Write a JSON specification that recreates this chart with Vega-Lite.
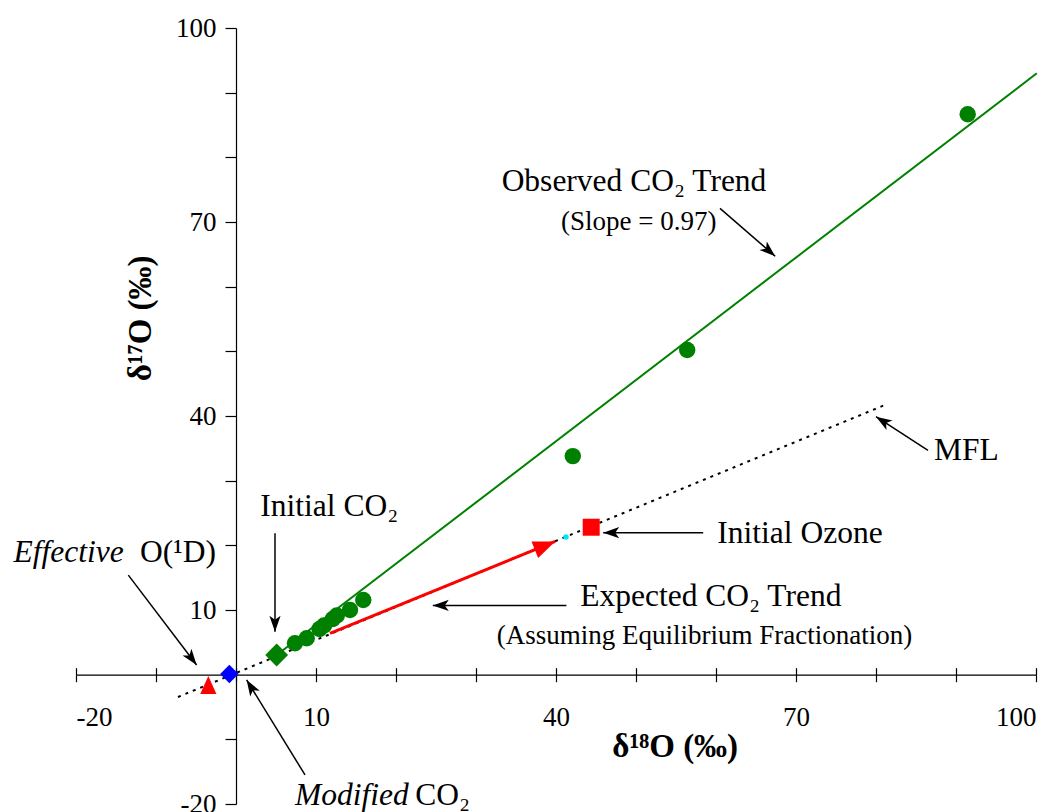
{
  "$schema": "https://vega.github.io/schema/vega-lite/v6.json",
  "width": 960,
  "height": 776,
  "autosize": {"type": "none"},
  "padding": {"left": 76, "top": 28, "right": 22, "bottom": 8},
  "background": "white",
  "config": {
    "view": {"stroke": null},
    "font": "Liberation Serif",
    "axis": {
      "grid": false,
      "domainColor": "black",
      "tickColor": "black",
      "labelColor": "black",
      "labelFont": "Liberation Serif",
      "labelFontSize": 27,
      "domainWidth": 1.2,
      "tickWidth": 1.2,
      "title": null
    }
  },
  "resolve": {"axis": {"x": "independent", "y": "independent"}},
  "datasets": {
    "samples": [
      {"x": 7.37, "y": 4.85, "kind": "Observed CO2"},
      {"x": 8.84, "y": 5.63, "kind": "Observed CO2"},
      {"x": 10.44, "y": 7.06, "kind": "Observed CO2"},
      {"x": 11.0, "y": 7.6, "kind": "Observed CO2"},
      {"x": 12.1, "y": 8.6, "kind": "Observed CO2"},
      {"x": 12.6, "y": 9.15, "kind": "Observed CO2"},
      {"x": 14.25, "y": 10.0, "kind": "Observed CO2"},
      {"x": 15.91, "y": 11.55, "kind": "Observed CO2"},
      {"x": 42.1, "y": 33.8, "kind": "Observed CO2"},
      {"x": 56.4, "y": 50.2, "kind": "Observed CO2"},
      {"x": 91.46, "y": 86.66, "kind": "Observed CO2"},
      {"x": 5.08, "y": 3.04, "kind": "Initial CO2"},
      {"x": -0.83, "y": 0.1, "kind": "Modified CO2"},
      {"x": -3.46, "y": -1.6, "kind": "Effective O(1D)"},
      {"x": 44.4, "y": 22.8, "kind": "Initial Ozone"},
      {"x": 41.25, "y": 21.3, "kind": "Equilibrium end"}
    ],
    "mfl": [{"x": -7.25, "y": -3.45, "x2": 81.1, "y2": 41.7}],
    "observed": [{"x": 5.08, "y": 3.04, "x2": 100.1, "y2": 93.0}],
    "expected": [{"x": 11.75, "y": 6.39, "x2": 39.9, "y2": 20.6}],
    "arrows": [
      {"name": "obs", "x": 60.5, "y": 72.1, "x2": 67.4, "y2": 64.7},
      {"name": "mfl", "x": 86.5, "y": 34.7, "x2": 80.0, "y2": 39.9},
      {"name": "ozone", "x": 58.4, "y": 21.95, "x2": 45.9, "y2": 21.95},
      {"name": "expected", "x": 41.3, "y": 10.7, "x2": 24.6, "y2": 10.7},
      {"name": "initial", "x": 4.875, "y": 21.85, "x2": 4.875, "y2": 6.65},
      {"name": "effective", "x": -13.46, "y": 15.4, "x2": -4.92, "y2": 1.5},
      {"name": "modified", "x": 8.625, "y": -15.5, "x2": 1.33, "y2": -0.82}
    ],
    "bigText": [
      {"label": "Observed CO₂ Trend", "x": 49.75, "y": 74.8},
      {"label": "Initial Ozone", "x": 70.5, "y": 20.3},
      {"label": "Expected CO₂ Trend", "x": 59.35, "y": 10.6},
      {"label": "Initial CO₂", "x": 11.65, "y": 24.5},
      {"label": "MFL", "x": 91.3, "y": 33.2}
    ],
    "smallText": [
      {"label": "(Slope = 0.97)", "x": 50.35, "y": 68.7},
      {"label": "(Assuming Equilibrium Fractionation)", "x": 58.56, "y": 4.74}
    ],
    "leftText": [
      {"label": "O(¹D)", "x": -12.0, "y": 17.47},
      {"label": "CO₂", "x": 22.4, "y": -20.1}
    ],
    "italicText": [
      {"label": "Effective", "x": -27.8, "y": 17.47},
      {"label": "Modified", "x": 7.375, "y": -20.1}
    ],
    "xTitle": [{"label": "δ¹⁸O (‰)", "x": 54.9, "y": -12.7}],
    "yTitle": [{"label": "δ¹⁷O (‰)", "x": -10.6, "y": 55.1}]
  },
  "layer": [
    {
      "data": {"name": "mfl"},
      "mark": {"type": "rule", "color": "black", "strokeWidth": 2, "strokeDash": [3, 5]},
      "encoding": {
        "x": {"field": "x", "type": "quantitative", "scale": {"domain": [-20, 100], "nice": false, "zero": false},
          "axis": {"orient": "top", "offset": -646.7, "values": [-20, -10, 0, 10, 20, 30, 40, 50, 60, 70, 80, 90, 100], "tickSize": 7, "labels": false, "domain": false}},
        "y": {"field": "y", "type": "quantitative", "scale": {"domain": [-20, 100], "nice": false, "zero": false},
          "axis": {"orient": "left", "offset": -160, "values": [-20, -10, 0, 10, 20, 30, 40, 50, 60, 70, 80, 90, 100], "tickSize": 11, "labelPadding": 9,
            "labelExpr": "indexof([-20,10,40,70,100], datum.value) >= 0 ? '' + datum.value : ''"}},
        "x2": {"field": "x2"},
        "y2": {"field": "y2"}
      }
    },
    {
      "data": {"name": "observed"},
      "mark": {"type": "rule", "color": "#008000", "strokeWidth": 2},
      "encoding": {
        "x": {"field": "x", "type": "quantitative", "axis": null},
        "y": {"field": "y", "type": "quantitative", "axis": null},
        "x2": {"field": "x2"},
        "y2": {"field": "y2"}
      }
    },
    {
      "data": {"name": "expected"},
      "layer": [
        {
          "mark": {"type": "rule", "color": "#ff0000", "strokeWidth": 3},
          "encoding": {
            "x": {"field": "x", "type": "quantitative", "axis": null},
            "y": {"field": "y", "type": "quantitative", "axis": null},
            "x2": {"field": "x2"},
            "y2": {"field": "y2"}
          }
        },
        {
          "mark": {"type": "point", "shape": "M0,0L-2,-0.8L-2,0.8Z", "filled": true, "color": "#ff0000", "opacity": 1, "size": 484, "angle": 337.8},
          "encoding": {
            "x": {"field": "x2", "type": "quantitative", "axis": null},
            "y": {"field": "y2", "type": "quantitative", "axis": null}
          }
        }
      ]
    },
    {
      "data": {"name": "samples"},
      "mark": {"type": "point", "filled": true, "opacity": 1},
      "encoding": {
        "x": {"field": "x", "type": "quantitative",
          "axis": {"orient": "bottom", "offset": -129.3, "values": [-20, -10, 0, 10, 20, 30, 40, 50, 60, 70, 80, 90, 100], "tickSize": 7, "labelPadding": 23,
            "labelExpr": "indexof([-20,10,40,70,100], datum.value) >= 0 ? '' + datum.value : ''"}},
        "y": {"field": "y", "type": "quantitative", "axis": null},
        "shape": {"field": "kind", "type": "nominal", "legend": null,
          "scale": {"domain": ["Observed CO2", "Initial CO2", "Modified CO2", "Effective O(1D)", "Initial Ozone", "Equilibrium end"],
            "range": ["circle", "diamond", "diamond", "M0,-1L0.9,1L-0.9,1Z", "square", "circle"]}},
        "color": {"field": "kind", "type": "nominal", "legend": null,
          "scale": {"domain": ["Observed CO2", "Initial CO2", "Modified CO2", "Effective O(1D)", "Initial Ozone", "Equilibrium end"],
            "range": ["#008000", "#008000", "#0000ff", "#ff0000", "#ff0000", "#00e5ff"]}},
        "size": {"field": "kind", "type": "nominal", "legend": null,
          "scale": {"type": "ordinal", "domain": ["Observed CO2", "Initial CO2", "Modified CO2", "Effective O(1D)", "Initial Ozone", "Equilibrium end"],
            "range": [270, 520, 340, 324, 289, 30]}}
      }
    },
    {
      "data": {"name": "arrows"},
      "layer": [
        {
          "mark": {"type": "rule", "color": "black", "strokeWidth": 1.5},
          "encoding": {
            "x": {"field": "x", "type": "quantitative", "axis": null},
            "y": {"field": "y", "type": "quantitative", "axis": null},
            "x2": {"field": "x2"},
            "y2": {"field": "y2"}
          }
        },
        {"transform": [{"filter": "datum.name == 'obs'"}], "mark": {"type": "point", "shape": "M0,0L-2,-0.7L-1.5,0L-2,0.7Z", "filled": true, "color": "black", "opacity": 1, "size": 256, "angle": 41}, "encoding": {"x": {"field": "x2", "type": "quantitative", "axis": null}, "y": {"field": "y2", "type": "quantitative", "axis": null}}},
        {"transform": [{"filter": "datum.name == 'mfl'"}], "mark": {"type": "point", "shape": "M0,0L-2,-0.7L-1.5,0L-2,0.7Z", "filled": true, "color": "black", "opacity": 1, "size": 256, "angle": 212.5}, "encoding": {"x": {"field": "x2", "type": "quantitative", "axis": null}, "y": {"field": "y2", "type": "quantitative", "axis": null}}},
        {"transform": [{"filter": "datum.name == 'ozone' || datum.name == 'expected'"}], "mark": {"type": "point", "shape": "M0,0L-2,-0.7L-1.5,0L-2,0.7Z", "filled": true, "color": "black", "opacity": 1, "size": 256, "angle": 180}, "encoding": {"x": {"field": "x2", "type": "quantitative", "axis": null}, "y": {"field": "y2", "type": "quantitative", "axis": null}}},
        {"transform": [{"filter": "datum.name == 'initial'"}], "mark": {"type": "point", "shape": "M0,0L-2,-0.7L-1.5,0L-2,0.7Z", "filled": true, "color": "black", "opacity": 1, "size": 256, "angle": 90}, "encoding": {"x": {"field": "x2", "type": "quantitative", "axis": null}, "y": {"field": "y2", "type": "quantitative", "axis": null}}},
        {"transform": [{"filter": "datum.name == 'effective'"}], "mark": {"type": "point", "shape": "M0,0L-2,-0.7L-1.5,0L-2,0.7Z", "filled": true, "color": "black", "opacity": 1, "size": 256, "angle": 52.8}, "encoding": {"x": {"field": "x2", "type": "quantitative", "axis": null}, "y": {"field": "y2", "type": "quantitative", "axis": null}}},
        {"transform": [{"filter": "datum.name == 'modified'"}], "mark": {"type": "point", "shape": "M0,0L-2,-0.7L-1.5,0L-2,0.7Z", "filled": true, "color": "black", "opacity": 1, "size": 256, "angle": 238.5}, "encoding": {"x": {"field": "x2", "type": "quantitative", "axis": null}, "y": {"field": "y2", "type": "quantitative", "axis": null}}}
      ]
    },
    {
      "data": {"name": "bigText"},
      "mark": {"type": "text", "font": "Liberation Serif", "fontSize": 31.5, "align": "center", "baseline": "alphabetic", "color": "black"},
      "encoding": {
        "x": {"field": "x", "type": "quantitative", "axis": null},
        "y": {"field": "y", "type": "quantitative", "axis": null},
        "text": {"field": "label"}
      }
    },
    {
      "data": {"name": "smallText"},
      "mark": {"type": "text", "font": "Liberation Serif", "fontSize": 27, "align": "center", "baseline": "alphabetic", "color": "black"},
      "encoding": {
        "x": {"field": "x", "type": "quantitative", "axis": null},
        "y": {"field": "y", "type": "quantitative", "axis": null},
        "text": {"field": "label"}
      }
    },
    {
      "data": {"name": "leftText"},
      "mark": {"type": "text", "font": "Liberation Serif", "fontSize": 31.5, "align": "left", "baseline": "alphabetic", "color": "black"},
      "encoding": {
        "x": {"field": "x", "type": "quantitative", "axis": null},
        "y": {"field": "y", "type": "quantitative", "axis": null},
        "text": {"field": "label"}
      }
    },
    {
      "data": {"name": "italicText"},
      "mark": {"type": "text", "font": "Liberation Serif", "fontSize": 31.5, "fontStyle": "italic", "align": "left", "baseline": "alphabetic", "color": "black"},
      "encoding": {
        "x": {"field": "x", "type": "quantitative", "axis": null},
        "y": {"field": "y", "type": "quantitative", "axis": null},
        "text": {"field": "label"}
      }
    },
    {
      "data": {"name": "xTitle"},
      "mark": {"type": "text", "font": "Liberation Serif", "fontSize": 33, "fontWeight": "bold", "align": "center", "baseline": "alphabetic", "color": "black"},
      "encoding": {
        "x": {"field": "x", "type": "quantitative", "axis": null},
        "y": {"field": "y", "type": "quantitative", "axis": null},
        "text": {"field": "label"}
      }
    },
    {
      "data": {"name": "yTitle"},
      "mark": {"type": "text", "font": "Liberation Serif", "fontSize": 33, "fontWeight": "bold", "align": "center", "baseline": "alphabetic", "angle": 270, "color": "black"},
      "encoding": {
        "x": {"field": "x", "type": "quantitative", "axis": null},
        "y": {"field": "y", "type": "quantitative", "axis": null},
        "text": {"field": "label"}
      }
    }
  ]
}
